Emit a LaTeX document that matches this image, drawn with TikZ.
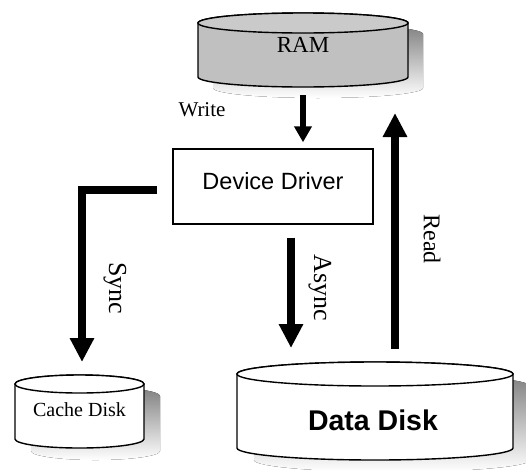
\documentclass[tikz,border=0pt]{standalone}
\usepackage{fontspec}
\setmainfont{Liberation Serif}
\setsansfont{Liberation Sans}
\usetikzlibrary{arrows.meta}

\definecolor{ramside}{RGB}{192,192,192}
\definecolor{ramlid}{RGB}{202,202,202}
\definecolor{shade}{RGB}{128,128,128}

% disk: side fill, lid fill, centre x, lid y, bottom y, x radius, y radius, shadow dx, shadow dy
\newcommand{\disk}[9]{%
  \fill[shade, shift={(#8,#9)}] (#3-#6,#4) -- (#3-#6,#5)
    arc[start angle=180, end angle=360, x radius=#6pt, y radius=#7pt]
    -- (#3+#6,#4) arc[start angle=0, end angle=180, x radius=#6pt, y radius=#7pt] -- cycle;
  \filldraw[line width=1.4pt, fill=#1] (#3-#6,#4) -- (#3-#6,#5)
    arc[start angle=180, end angle=360, x radius=#6pt, y radius=#7pt]
    -- (#3+#6,#4) arc[start angle=0, end angle=180, x radius=#6pt, y radius=#7pt] -- cycle;
  \filldraw[line width=1.4pt, fill=#2] (#3,#4) ellipse [x radius=#6pt, y radius=#7pt];
}

\tikzset{
  fat/.style={line width=8pt, -{Triangle[length=24pt, width=23pt]}},
  thin/.style={line width=5.5pt, -{Triangle[length=16pt, width=17pt]}},
  rm/.style={font=\fontsize{#1}{#1}\selectfont},
  box/.style={draw, line width=1.4pt, minimum width=200pt, minimum height=75pt,
    inner sep=0pt, text height=17pt, text depth=11pt,
    font=\sffamily\fontsize{23.5}{28}\selectfont}
}

\begin{document}
\begin{tikzpicture}[x=1pt, y=-1pt]
  \useasboundingbox (0,0) rectangle (526,469);

  %%%%% disks %%%%%
  \disk{ramside}{ramlid}{303}{23}{77}{105}{10}{15}{11}
  \disk{white}{white}{79.5}{384}{439}{64.5}{9}{16}{12}
  \disk{white}{white}{375}{374}{448}{138}{12}{17}{12}

  \node[rm=23] (ram) at (303,45) {RAM};
  \node[rm=20] (cache) at (79.5,410) {Cache Disk};
  \node[font=\sffamily\bfseries\fontsize{28.5}{32}\selectfont] (data) at (373,420) {Data Disk};

  %%%%% driver %%%%%
  \node[box] (drv) at (273,186.5) {Device Driver};

  %%%%% arrows %%%%%
  \coordinate (wrfoot) at (303,95);
  \coordinate (synctip) at (82,362);
  \coordinate (astip) at (291,348);
  \coordinate (rdfoot) at (395,349);
  \coordinate (rdtip) at (395,113);

  \draw[thin, shorten >=6pt] (wrfoot) -- (wrfoot |- drv.north);
  \draw[fat] ([xshift=-15pt, yshift=-3pt]drv.west) -| (synctip);
  \draw[fat, shorten <=13pt] (astip |- drv.south) -- (astip);
  \draw[fat] (rdfoot) -- (rdtip);

  \node[rm=21] (write) at (202,110) {Write};
  \node[rm=26, rotate=-90] (sync) at (115,288) {Sync};
  \node[rm=26, rotate=-90] (async) at (320,288) {Async};
  \node[rm=24, rotate=-90] (read) at (432,239) {Read};
\end{tikzpicture}
\end{document}
